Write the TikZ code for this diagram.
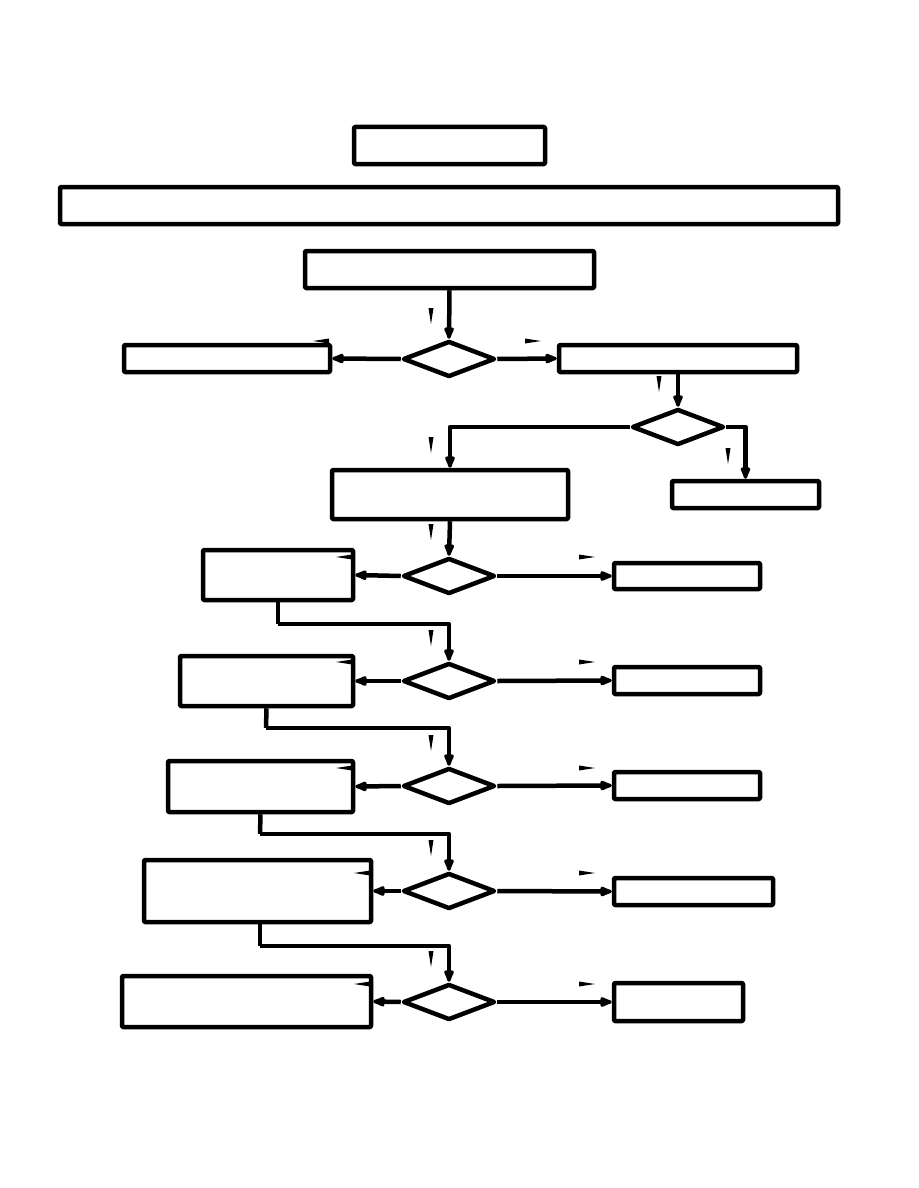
\documentclass[tikz,border=0pt]{standalone}
\usetikzlibrary{shapes.geometric,arrows.meta}
\tikzset{
  box/.style={draw,line width=4.5pt,line join=round,rectangle,rounded corners=1pt,inner sep=0pt},
  dia/.style={draw,line width=4.5pt,line join=round,diamond,inner sep=0pt,minimum width=92pt,minimum height=36pt},
  conn/.style={line width=4.5pt,line join=round,-{Latex[length=17pt,width=12pt,round]}},
  plain/.style={line width=4.5pt,line join=round},
  wedge/.style={fill=black,draw=none}
}
\newcommand{\bx}[5]{\node[box,minimum width=#4-#2,minimum height=#5-#3] (#1) at ({(#2+#4)/2},{(#3+#5)/2}) {};}
\newcommand{\vmk}[2]{\fill[wedge] (#1-2.5,#2) -- (#1+2.5,#2) -- (#1,#2+16) -- cycle;}
\newcommand{\rmk}[2]{\fill[wedge] (#1,#2-2.5) -- (#1,#2+2.5) -- (#1+16,#2) -- cycle;}
\newcommand{\lmk}[2]{\fill[wedge] (#1,#2-2.5) -- (#1,#2+2.5) -- (#1-16,#2) -- cycle;}
\begin{document}
\begin{tikzpicture}[x=1pt,y=-1pt]
\useasboundingbox (0,0) rectangle (918,1188);
\bx{T}{354}{127}{545}{164}
\bx{W}{60}{187}{838}{224}
\bx{B}{305}{251}{594}{288}
\node[dia] (D1) at (449,359) {};
\bx{L1}{124}{345}{330}{372}
\bx{R1}{559}{345}{797}{372}
\node[dia] (D2) at (678,427) {};
\bx{M}{332}{470}{568}{519}
\bx{RR}{672}{481}{819}{508}
\node[dia] (D3) at (449,576) {};
\bx{L3}{203}{550}{353}{600}
\bx{R3}{614}{563}{760}{589}
\node[dia] (D4) at (449,681) {};
\bx{L4}{180}{656}{353}{706}
\bx{R4}{614}{667}{760}{694}
\node[dia] (D5) at (449,786) {};
\bx{L5}{168}{761}{353}{812}
\bx{R5}{614}{772}{760}{799}
\node[dia] (D6) at (449,891) {};
\bx{L6}{144}{860}{371}{922}
\bx{R6}{614}{878}{773}{905}
\node[dia] (D7) at (449,1002) {};
\bx{L7}{122}{976}{371}{1027}
\bx{R7}{614}{983}{743}{1021}

\draw[conn] (B.south) -- (D1.north);
\draw[conn] (D1.west) -- (L1.east);
\draw[conn] (D1.east) -- (R1.west);
\draw[conn] (R1.south) -- (D2.north);
\draw[conn] (D2.west) -| (M.north);
\draw[conn] (D2.east) -| (RR.north);
\draw[conn] (M.south) -- (D3.north);
\foreach \d/\l/\r in {D3/L3/R3,D4/L4/R4,D5/L5/R5,D6/L6/R6,D7/L7/R7}{
  \draw[conn] (\d.west) -- (\l.east);
  \draw[conn] (\d.east) -- (\r.west);
}
\coordinate (c3) at (278,624);
\coordinate (c4) at (266,728);
\coordinate (c5) at (260,834);
\coordinate (c6) at (260,946);
\draw[plain] (L3.south) -- (c3);
\draw[conn] (c3) -| (D4.north);
\draw[plain] (L4.south) -- (c4);
\draw[conn] (c4) -| (D5.north);
\draw[plain] (L5.south) -- (c5);
\draw[conn] (c5) -| (D6.north);
\draw[plain] (L6.south -| c6) -- (c6);
\draw[conn] (c6) -| (D7.north);

\vmk{431}{308}\vmk{659}{376}\vmk{431}{437}\vmk{728}{448}\vmk{431}{524}
\vmk{431}{630}\vmk{431}{735}\vmk{431}{840}\vmk{431}{951}
\rmk{525}{341}\rmk{579}{557}\rmk{579}{662}\rmk{579}{768}\rmk{579}{873}\rmk{579}{984}
\lmk{329}{341}\lmk{352}{557}\lmk{352}{662}\lmk{352}{768}\lmk{370}{873}\lmk{370}{984}
\end{tikzpicture}
\end{document}
